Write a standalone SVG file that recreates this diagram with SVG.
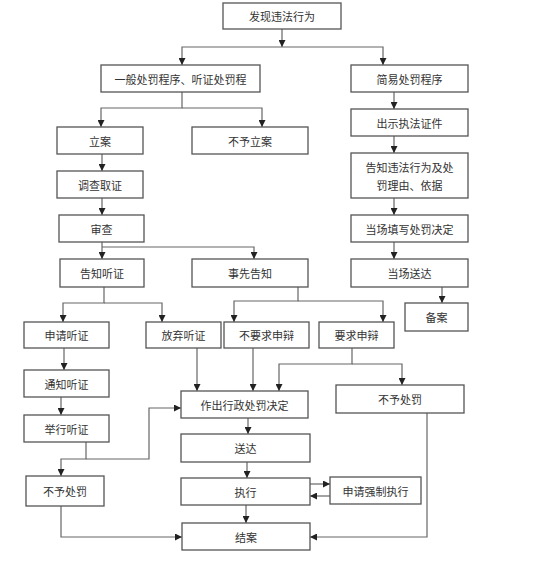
<svg xmlns="http://www.w3.org/2000/svg" width="555" height="561" viewBox="0 0 555 561">
<defs>
<style>
.box{fill:#fff;stroke:#555;stroke-width:1.3}
.t{font-family:"Noto Sans CJK SC","Noto Sans",sans-serif;font-size:11px;fill:#333;text-anchor:middle;dominant-baseline:central}
.c{fill:none;stroke:#666;stroke-width:1.2}
</style>
<marker id="ah" markerUnits="userSpaceOnUse" markerWidth="7" markerHeight="7" viewBox="0 0 10 10" refX="10" refY="5" orient="auto">
<path d="M0,0 L10,5 L0,10 z" fill="#222"/>
</marker>
</defs>
<rect width="555" height="561" fill="#fff"/>
<g id="connectors">
<path class="c" d="M282,29 V47" marker-end="url(#ah)"/>
<path class="c" d="M282,47 H182 V65" marker-end="url(#ah)"/>
<path class="c" d="M282,47 H383 V65" marker-end="url(#ah)"/>
<path class="c" d="M182,92 V108 H101 V127" marker-end="url(#ah)"/>
<path class="c" d="M182,108 H262 V127" marker-end="url(#ah)"/>
<path class="c" d="M394,92 V109" marker-end="url(#ah)"/>
<path class="c" d="M394,136 V153" marker-end="url(#ah)"/>
<path class="c" d="M394,198 V215" marker-end="url(#ah)"/>
<path class="c" d="M394,242 V259" marker-end="url(#ah)"/>
<path class="c" d="M442,287 V303" marker-end="url(#ah)"/>
<path class="c" d="M102,154 V171" marker-end="url(#ah)"/>
<path class="c" d="M102,198 V215" marker-end="url(#ah)"/>
<path class="c" d="M102,242 V259" marker-end="url(#ah)"/>
<path class="c" d="M102,247 H254 V259" marker-end="url(#ah)"/>
<path class="c" d="M104,287 V303 H63 V322" marker-end="url(#ah)"/>
<path class="c" d="M104,303 H162 V322" marker-end="url(#ah)"/>
<path class="c" d="M298,287 V301 H234 V322" marker-end="url(#ah)"/>
<path class="c" d="M298,301 H383 V322" marker-end="url(#ah)"/>
<path class="c" d="M64,348 V370" marker-end="url(#ah)"/>
<path class="c" d="M61,397 V415" marker-end="url(#ah)"/>
<path class="c" d="M86,442 V459 H61 V476" marker-end="url(#ah)"/>
<path class="c" d="M86,459 H149 V408 H181" marker-end="url(#ah)"/>
<path class="c" d="M197,348 V391" marker-end="url(#ah)"/>
<path class="c" d="M253,348 V391" marker-end="url(#ah)"/>
<path class="c" d="M352,348 V364 H279 V391" marker-end="url(#ah)"/>
<path class="c" d="M352,364 H402 V385" marker-end="url(#ah)"/>
<path class="c" d="M248,418 V434" marker-end="url(#ah)"/>
<path class="c" d="M247,462 V478" marker-end="url(#ah)"/>
<path class="c" d="M310,484 H330" marker-end="url(#ah)"/>
<path class="c" d="M330,496 H310" marker-end="url(#ah)"/>
<path class="c" d="M246,505 V523" marker-end="url(#ah)"/>
<path class="c" d="M61,506 V537 H182" marker-end="url(#ah)"/>
<path class="c" d="M427,413 V537 H310" marker-end="url(#ah)"/>
</g>
<g id="n1"><rect class="box" x="223" y="3" width="118" height="26"/><text class="t" x="282" y="16">发现违法行为</text></g>
<g id="n2"><rect class="box" x="101" y="65" width="159" height="27"/><text class="t" x="180.5" y="78.5">一般处罚程序、听证处罚程</text></g>
<g id="n3"><rect class="box" x="351" y="65" width="117" height="27"/><text class="t" x="409.5" y="78.5">简易处罚程序</text></g>
<g id="n4"><rect class="box" x="57" y="127" width="86" height="27"/><text class="t" x="100" y="140.5">立案</text></g>
<g id="n5"><rect class="box" x="192" y="127" width="116" height="27"/><text class="t" x="250" y="140.5">不予立案</text></g>
<g id="n6"><rect class="box" x="351" y="109" width="117" height="27"/><text class="t" x="409.5" y="122.5">出示执法证件</text></g>
<g id="n7"><rect class="box" x="57" y="171" width="86" height="27"/><text class="t" x="100" y="184.5">调查取证</text></g>
<g id="n8"><rect class="box" x="351" y="153" width="117" height="45"/><text class="t" x="409.5" y="167">告知违法行为及处</text><text class="t" x="409.5" y="185">罚理由、依据</text></g>
<g id="n9"><rect class="box" x="59" y="215" width="85" height="27"/><text class="t" x="101.5" y="228.5">审查</text></g>
<g id="n10"><rect class="box" x="351" y="215" width="117" height="27"/><text class="t" x="409.5" y="228.5">当场填写处罚决定</text></g>
<g id="n11"><rect class="box" x="60" y="259" width="84" height="28"/><text class="t" x="102" y="273">告知听证</text></g>
<g id="n12"><rect class="box" x="192" y="259" width="116" height="28"/><text class="t" x="250" y="273">事先告知</text></g>
<g id="n13"><rect class="box" x="351" y="259" width="117" height="28"/><text class="t" x="409.5" y="273">当场送达</text></g>
<g id="n14"><rect class="box" x="405" y="303" width="63" height="28"/><text class="t" x="436.5" y="317">备案</text></g>
<g id="n15"><rect class="box" x="24" y="322" width="85" height="26"/><text class="t" x="66.5" y="335">申请听证</text></g>
<g id="n16"><rect class="box" x="146" y="322" width="75" height="26"/><text class="t" x="183.5" y="335">放弃听证</text></g>
<g id="n17"><rect class="box" x="224" y="322" width="85" height="26"/><text class="t" x="266.5" y="335">不要求申辩</text></g>
<g id="n18"><rect class="box" x="319" y="322" width="75" height="26"/><text class="t" x="356.5" y="335">要求申辩</text></g>
<g id="n19"><rect class="box" x="24" y="370" width="85" height="27"/><text class="t" x="66.5" y="383.5">通知听证</text></g>
<g id="n20"><rect class="box" x="181" y="391" width="127" height="27"/><text class="t" x="244.5" y="404.5">作出行政处罚决定</text></g>
<g id="n21"><rect class="box" x="336" y="385" width="128" height="28"/><text class="t" x="400" y="399">不予处罚</text></g>
<g id="n22"><rect class="box" x="24" y="415" width="85" height="27"/><text class="t" x="66.5" y="428.5">举行听证</text></g>
<g id="n23"><rect class="box" x="181" y="434" width="129" height="28"/><text class="t" x="245.5" y="448">送达</text></g>
<g id="n24"><rect class="box" x="26" y="476" width="78" height="30"/><text class="t" x="65" y="491">不予处罚</text></g>
<g id="n25"><rect class="box" x="181" y="478" width="129" height="27"/><text class="t" x="245.5" y="491.5">执行</text></g>
<g id="n26"><rect class="box" x="330" y="477" width="91" height="27"/><text class="t" x="375.5" y="490.5">申请强制执行</text></g>
<g id="n27"><rect class="box" x="182" y="523" width="128" height="27"/><text class="t" x="246" y="536.5">结案</text></g>
</svg>
